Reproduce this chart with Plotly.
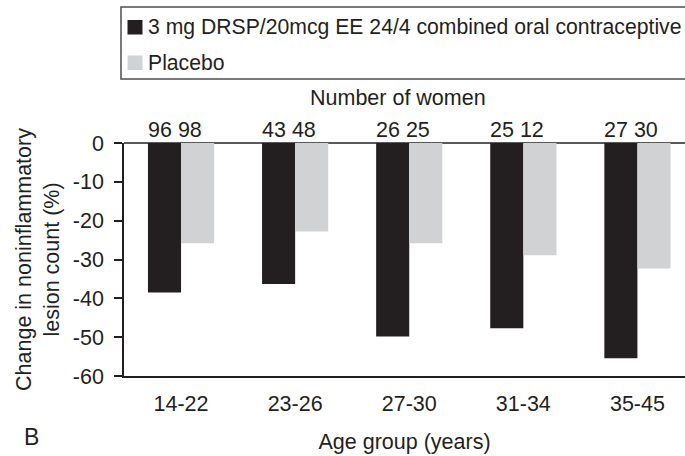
import plotly.graph_objects as go

# ---- data ----
age_groups = ["14-22", "23-26", "27-30", "31-34", "35-45"]
drsp_change = [-38.5, -36.3, -49.8, -47.7, -55.4]
placebo_change = [-25.8, -22.8, -25.8, -28.9, -32.3]
n_drsp = [96, 43, 26, 25, 27]
n_placebo = [98, 48, 25, 12, 30]
series_names = ["3 mg DRSP/20mcg EE 24/4 combined oral contraceptive", "Placebo"]
y_tickvals = [0, -10, -20, -30, -40, -50, -60]
y_ticktext = ["0", "-10", "-20", "-30", "-40", "-50", "-60"]

# ---- styling ----
W, H = 685, 456
L, R, T, B = 124, 0, 143, 80
PW, PH = W - L - R, H - T - B
FONT = "Arial, Liberation Sans, Helvetica, sans-serif"
FS = 21.5
LEG_FS = 21.2
TXT = "#231f20"
BLACK = "#231f20"
GRAY = "#d1d2d4"


def px(x):
    return (x - L) / PW


def py(y):
    return (H - B - y) / PH


fig = go.Figure()
fig.add_trace(go.Bar(x=age_groups, y=drsp_change, name=series_names[0],
                     marker=dict(color=BLACK, line=dict(width=0))))
fig.add_trace(go.Bar(x=age_groups, y=placebo_change, name=series_names[1],
                     marker=dict(color=GRAY, line=dict(width=0))))

annotations = []
# counts above groups
for g, a, b in zip(age_groups, n_drsp, n_placebo):
    annotations.append(dict(x=g, xref="x", y=py(130), yref="paper",
                            text=f"{a} {b}", showarrow=False, xshift=-6,
                            xanchor="center", yanchor="middle",
                            font=dict(size=FS, color=TXT, family=FONT)))
annotations.append(dict(x=px(398), xref="paper", y=py(98), yref="paper",
                        text="Number of women", showarrow=False,
                        xanchor="center", yanchor="middle",
                        font=dict(size=FS, color=TXT, family=FONT)))
annotations.append(dict(x=px(31), xref="paper", y=py(437), yref="paper",
                        text="B", showarrow=False,
                        xanchor="center", yanchor="middle",
                        font=dict(size=23, color=TXT, family=FONT)))
# manual legend text
annotations.append(dict(x=px(146), xref="paper", y=py(27), yref="paper",
                        text=series_names[0], showarrow=False,
                        xanchor="left", yanchor="middle",
                        font=dict(size=LEG_FS, color=TXT, family=FONT)))
annotations.append(dict(x=px(146), xref="paper", y=py(62.5), yref="paper",
                        text=series_names[1], showarrow=False,
                        xanchor="left", yanchor="middle",
                        font=dict(size=LEG_FS, color=TXT, family=FONT)))

shapes = [
    dict(type="rect", xref="paper", yref="paper", x0=px(121), x1=px(720),
         y0=py(7), y1=py(79), line=dict(color="#4d4d4f", width=1.5),
         fillcolor="rgba(0,0,0,0)", layer="above"),
    dict(type="rect", xref="paper", yref="paper", x0=px(127.5), x1=px(142.5),
         y0=py(20), y1=py(34.5), line=dict(width=0), fillcolor=BLACK),
    dict(type="rect", xref="paper", yref="paper", x0=px(127.5), x1=px(142.5),
         y0=py(55.5), y1=py(70), line=dict(width=0), fillcolor=GRAY),
]

fig.update_layout(
    width=W, height=H,
    margin=dict(l=L, r=R, t=T, b=B, autoexpand=False),
    paper_bgcolor="white", plot_bgcolor="white",
    barmode="group", bargap=0.42, bargroupgap=0,
    showlegend=False,
    font=dict(family=FONT, size=FS, color=TXT),
    annotations=annotations, shapes=shapes,
    xaxis=dict(range=[-0.5, 4.417], showgrid=False, zeroline=False,
               showline=True, linecolor=BLACK, linewidth=1.5,
               ticks="", ticklabelstandoff=7,
               tickfont=dict(size=FS, color=TXT, family=FONT),
               title=dict(text="Age group (years)", standoff=19,
                          font=dict(size=FS, color=TXT, family=FONT))),
    yaxis=dict(range=[-60, 0], tickvals=y_tickvals, ticktext=y_ticktext,
               showgrid=False, zeroline=True, zerolinecolor="#58595b",
               zerolinewidth=1.5, showline=True, linecolor=BLACK,
               linewidth=1.5, ticks="outside", ticklen=8, tickwidth=1.5,
               tickcolor=BLACK, ticklabelstandoff=6,
               tickfont=dict(size=FS, color=TXT, family=FONT),
               title=dict(text="Change in noninflammatory<br>lesion count (%)",
                          standoff=7,
                          font=dict(size=FS, color=TXT, family=FONT))),
)

fig.write_html("out.html")
